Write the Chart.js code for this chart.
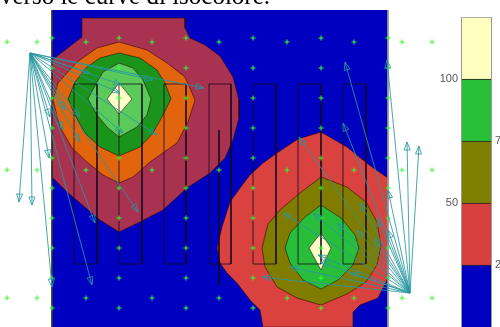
<!DOCTYPE html>
<html>
<head>
<meta charset="utf-8">
<script src="https://cdn.jsdelivr.net/npm/chart.js@4"></script>
<style>
  body { margin:0; width:500px; height:327px; overflow:hidden; background:#fff; position:relative; }
  #title { position:absolute; left:0; top:-17px; font-family:"Liberation Serif", serif; font-size:25px; line-height:25px; white-space:nowrap; color:#000; }
  #field { position:absolute; left:0; top:0; }
  #bar { position:absolute; left:420px; top:0; }
</style>
</head>
<body>
<canvas id="field" width="500" height="327"></canvas>
<canvas id="bar" width="110" height="340"></canvas>
<div id="title">verso le curve di isocolore.</div>
<script>
// field coords: x right, y up, origin at the lower-left probe

const probeColsA = [0, 67, 134, 201, 269, 336];
const probeRowsA = [0, 30, 60, 90, 120, 150, 180, 210, 240, 270];
const probeColsB = [-45, -15, 34, 100, 167, 235, 302, 350, 380];
const probeRowsB = [10, 138, 266];

const fieldFrame = [[0, 298], [336, 298], [336, -19], [0, -19]];

// upper-left peak
const peakA1 = [[30,290],[133,290],[133,280],[138,270],[153,263],[168,252],[181,231],[187,208],[187,190],[181,168],[173,150],[158,135],[135,120],[111,98],[88,86],[67,76],[48,88],[28,105],[15,116],[0,131],[0,248],[30,271]];
const peakA2 = [[67,266],[95,258],[115,245],[133,231],[143,208],[136,186],[125,165],[98,146],[81,131],[67,125],[51,133],[35,146],[20,160],[8,181],[1,208],[6,225],[25,246],[45,260]];
const peakA3 = [[67,255],[88,250],[105,238],[113,225],[119,209],[111,193],[101,175],[88,161],[67,152],[48,161],[33,175],[23,193],[16,209],[23,226],[35,241],[48,250]];
const peakA4 = [[67,245],[81,240],[91,228],[99,209],[95,193],[85,181],[67,171],[55,181],[45,193],[36,209],[45,226],[51,236]];
const peakA5 = [[67,225],[80,209],[67,194],[55,209]];

// lower-right peak
const peakB1 = [[269,176],[246,169],[225,155],[211,145],[198,133],[188,120],[178,106],[170,81],[165,60],[168,45],[175,35],[185,25],[198,8],[208,-2],[211,-19],[301,-19],[301,-4],[308,3],[326,10],[336,30],[336,130],[320,141],[311,148],[295,161]];
const peakB2 = [[269,131],[295,121],[314,106],[325,86],[329,63],[325,43],[314,26],[295,14],[269,3],[245,10],[225,21],[213,41],[210,60],[216,84],[228,98],[248,115]];
const peakB3 = [[269,103],[289,90],[303,73],[307,60],[301,43],[286,28],[269,19],[251,28],[238,45],[233,60],[238,75],[253,91]];
const peakB4 = [[269,75],[279,60],[269,38],[257,60]];

const laneLeft = [22, 67, 112, 157, 201, 246, 291];
const laneRight = [45, 90, 134, 179, 224, 269, 314];
const laneTop = 224;
const laneBottom = 44;
const strayTrack = [[167, 178], [167, 23]];

const sourceLeft = [-22, 255];
const targetsLeft = [[152,220],[101,228],[70,223],[38,235],[68,215],[13,198],[-2,191],[28,191],[11,178],[28,166],[71,175],[105,173],[-3,150],[-33,106],[-20,103],[43,85],[86,96],[0,21],[40,23]];
const sourceRight = [358, 15];
const targetsRight = [[293,246],[335,248],[291,185],[247,171],[355,166],[367,162],[336,118],[308,105],[325,90],[285,85],[336,78],[305,78],[323,70],[231,95],[261,95],[266,53],[238,41],[210,31],[298,35],[268,46]];

const barLevels = [0, 25, 50, 75, 100, 125];
const leftTicks = [50, 100];
const rightTicks = [25, 75];

const pts = a => a.map(p => ({ x: p[0], y: p[1] }));

function region(shape, color, order) {
  return {
    data: pts(shape.concat([shape[0]])),
    showLine: true, fill: 'shape', tension: 0,
    backgroundColor: color, borderColor: 'rgba(40,0,0,0.55)', borderWidth: 1,
    pointRadius: 0, order: order
  };
}

const datasets = [
  region(fieldFrame, '#0000c0', 100),
  region(peakA1, '#a83250', 90),
  region(peakA2, '#e2650e', 80),
  region(peakA3, '#1a941a', 70),
  region(peakA4, '#5aca5a', 60),
  region(peakA5, '#ffffc8', 50),
  region(peakB1, '#d9423e', 90),
  region(peakB2, '#807c00', 80),
  region(peakB3, '#28be3a', 70),
  region(peakB4, '#ffffc8', 60)
];
datasets[0].borderWidth = 0;

laneLeft.forEach((l, i) => {
  const r = laneRight[i];
  datasets.push({
    data: pts([[l, laneBottom], [l, laneTop], [r, laneTop], [r, laneBottom], [l, laneBottom]]),
    showLine: true, fill: false, borderColor: 'rgba(20,10,30,0.8)', borderWidth: 1,
    pointRadius: 0, order: 20
  });
});
datasets.push({ data: pts(strayTrack), showLine: true, borderColor: 'rgba(20,10,30,0.8)', borderWidth: 1, pointRadius: 0, order: 20 });
datasets.push({ data: pts([[0, 298], [0, -19]]), showLine: true, borderColor: '#333', borderWidth: 1, pointRadius: 0, order: 20 });
datasets.push({ data: pts([[336, 298], [336, -19]]), showLine: true, borderColor: '#999', borderWidth: 1, pointRadius: 0, order: 20 });

const probes = [];
probeColsA.forEach(x => probeRowsA.forEach(y => probes.push({ x, y })));
probeColsB.forEach(x => probeRowsB.forEach(y => probes.push({ x, y })));
datasets.push({ data: probes, pointStyle: 'cross', pointRadius: 2.5, borderColor: '#33ff33', borderWidth: 1, order: 10 });

const arrowPlugin = {
  id: 'arrows',
  afterDatasetsDraw(chart) {
    const { ctx } = chart;
    const sx = chart.scales.x, sy = chart.scales.y;
    ctx.save();
    ctx.strokeStyle = 'rgba(40,150,160,0.85)';
    ctx.lineWidth = 1;
    [[sourceLeft, targetsLeft], [sourceRight, targetsRight]].forEach(([s, ts]) => {
      const x0 = sx.getPixelForValue(s[0]), y0 = sy.getPixelForValue(s[1]);
      ts.forEach(t => {
        const x1 = sx.getPixelForValue(t[0]), y1 = sy.getPixelForValue(t[1]);
        const a = Math.atan2(y1 - y0, x1 - x0);
        ctx.beginPath(); ctx.moveTo(x0, y0); ctx.lineTo(x1, y1); ctx.stroke();
        const bx = x1 - 8 * Math.cos(a), by = y1 - 8 * Math.sin(a);
        ctx.beginPath();
        ctx.moveTo(x1, y1);
        ctx.lineTo(bx + 3 * Math.sin(a), by - 3 * Math.cos(a));
        ctx.lineTo(bx - 3 * Math.sin(a), by + 3 * Math.cos(a));
        ctx.closePath(); ctx.stroke();
      });
    });
    ctx.restore();
  }
};

new Chart(document.getElementById('field'), {
  type: 'scatter',
  data: { datasets },
  options: {
    responsive: false, animation: false,
    layout: { padding: 0, autoPadding: false },
    plugins: { legend: { display: false }, tooltip: { enabled: false } },
    scales: {
      x: { type: 'linear', min: -52, max: 448, display: false },
      y: { type: 'linear', min: -19, max: 308, display: false }
    }
  },
  plugins: [arrowPlugin]
});

const barColors = ['#0000c0', '#d84040', '#808000', '#28c038', '#ffffc0'];
const tickFont = { family: 'Liberation Sans', size: 11 };

// thin grey outline along the sides of the colour bar
const barFrame = {
  id: 'barFrame',
  afterDatasetsDraw(chart) {
    const { ctx, chartArea: a } = chart;
    ctx.save();
    ctx.strokeStyle = '#999';
    ctx.lineWidth = 1;
    ctx.beginPath();
    ctx.moveTo(a.left + 0.5, a.top); ctx.lineTo(a.left + 0.5, a.bottom);
    ctx.moveTo(a.right - 0.5, a.top); ctx.lineTo(a.right - 0.5, a.bottom);
    ctx.stroke();
    ctx.restore();
  }
};

new Chart(document.getElementById('bar'), {
  type: 'bar',
  data: {
    labels: [''],
    datasets: barColors.map((c, i) => ({
      data: [barLevels[i + 1] - barLevels[i]],
      backgroundColor: c,
      borderColor: i === 4 ? '#999' : '#222',
      borderWidth: { top: 1 },
      borderSkipped: false,
      barPercentage: 1, categoryPercentage: 1
    }))
  },
  options: {
    responsive: false, animation: false,
    layout: { padding: { top: 17, bottom: 13, left: 0, right: 0 }, autoPadding: false },
    plugins: { legend: { display: false }, tooltip: { enabled: false } },
    scales: {
      x: { stacked: true, display: false },
      y: {
        stacked: true, min: 0, max: 125, position: 'left',
        grid: { display: false, drawTicks: false }, border: { display: false },
        afterFit(s) { s.width = 41; },
        afterBuildTicks(s) { s.ticks = leftTicks.map(v => ({ value: v })); },
        ticks: { padding: 3, color: '#555', font: tickFont }
      },
      y2: {
        min: 0, max: 125, position: 'right',
        grid: { display: false, drawTicks: false }, border: { display: false },
        afterFit(s) { s.width = 38; },
        afterBuildTicks(s) { s.ticks = rightTicks.map(v => ({ value: v })); },
        ticks: { padding: 3, color: '#555', font: tickFont }
      }
    }
  },
  plugins: [barFrame]
});
</script>
</body>
</html>
